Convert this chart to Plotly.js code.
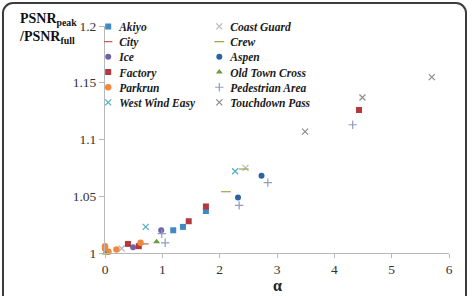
<!DOCTYPE html>
<html>
<head>
<meta charset="utf-8">
<script src="https://cdn.plot.ly/plotly-3.0.1.min.js"></script>
<style>
  html, body { margin: 0; padding: 0; background: #fff; overflow: hidden; }
  #plot { position: absolute; left: 0; top: 0; width: 473px; height: 296px; }
  #frame { position: absolute; left: 2px; top: 2px; width: 461px; height: 320px;
           border: 2px solid #3c3c3c; border-radius: 11px; pointer-events: none; }
</style>
</head>
<body>
<div id="plot"></div>
<div id="frame"></div>
<script>
// ---- data (alpha, PSNR_peak / PSNR_full) ----
const akiyoX = [1.19, 1.36, 1.76];
const akiyoY = [1.020, 1.023, 1.037];
const cityX = [0.69];
const cityY = [1.008];
const iceX = [0.49, 0.98];
const iceY = [1.005, 1.020];
const factoryX = [0.40, 0.59, 1.46, 1.76, 4.43];
const factoryY = [1.008, 1.006, 1.028, 1.041, 1.126];
const parkrunX = [0.0, 0.0, 0.06, 0.20, 0.62];
const parkrunY = [1.006, 1.004, 1.001, 1.003, 1.009];
const westWindX = [0.71, 2.27];
const westWindY = [1.023, 1.072];
const coastGuardX = [0.29, 2.45];
const coastGuardY = [1.004, 1.075];
const crewX = [2.11, 2.42];
const crewY = [1.054, 1.074];
const aspenX = [2.32, 2.73];
const aspenY = [1.049, 1.068];
const oldTownX = [0.0, 0.90];
const oldTownY = [1.000, 1.010];
const pedestrianX = [0.99, 1.05, 2.34, 2.84, 4.32];
const pedestrianY = [1.017, 1.009, 1.042, 1.062, 1.113];
const touchdownX = [3.49, 4.49, 5.70];
const touchdownY = [1.107, 1.137, 1.155];

const xTicks = [0, 1, 2, 3, 4, 5, 6];
const yTicks = [1, 1.05, 1.1, 1.15, 1.2];
const yTickText = ['1', '1.05', '1.1', '1.15', '1.2'];

const SERIF = '"Liberation Serif", "Times New Roman", Times, serif';

function tr(name, x, y, symbol, color, size, legend, thin) {
  const m = { symbol: symbol, color: color, size: size };
  if (thin) m.line = { color: color, width: 1.2 };
  else m.line = { width: 0 };
  return { type: 'scatter', mode: 'markers', name: '<b><i>' + name + '</i></b>', x: x, y: y,
           marker: m, legend: legend, cliponaxis: false, hoverinfo: 'skip' };
}

const traces = [
  tr('Akiyo', akiyoX, akiyoY, 'square', '#3f8ac4', 6, 'legend', false),
  tr('City', cityX, cityY, 'line-ew', '#c0605d', 6, 'legend', true),
  tr('Ice', iceX, iceY, 'circle', '#7060a8', 6, 'legend', false),
  tr('Factory', factoryX, factoryY, 'square', '#b03a3e', 6, 'legend', false),
  tr('Parkrun', parkrunX, parkrunY, 'circle', '#f0883c', 6.5, 'legend', false),
  tr('West Wind Easy', westWindX, westWindY, 'x-thin', '#4bacc6', 6, 'legend', true),
  tr('Coast Guard', coastGuardX, coastGuardY, 'x-thin', '#b8b8b8', 6, 'legend2', true),
  tr('Crew', crewX, crewY, 'line-ew', '#9aa84a', 7, 'legend2', true),
  tr('Aspen', aspenX, aspenY, 'circle', '#2c64a0', 6, 'legend2', false),
  tr('Old Town Cross', oldTownX, oldTownY, 'triangle-up', '#6e9a3c', 6, 'legend2', false),
  tr('Pedestrian Area', pedestrianX, pedestrianY, 'cross-thin', '#8f9dc0', 6, 'legend2', true),
  tr('Touchdown Pass', touchdownX, touchdownY, 'x-thin', '#8c8c8c', 6, 'legend2', true)
];

const legendFont = { family: SERIF, size: 11.5, color: '#1a1a1a' };

const layout = {
  width: 473, height: 296,
  margin: { l: 105, r: 24, t: 24, b: 43, pad: 0 },
  paper_bgcolor: '#ffffff', plot_bgcolor: '#ffffff',
  font: { family: SERIF, color: '#333' },
  showlegend: true,
  legend: { x: -0.075, xanchor: 'left', y: 1.062, yanchor: 'top', orientation: 'v',
            bgcolor: 'rgba(0,0,0,0)', font: legendFont, itemwidth: 30 },
  legend2: { x: 0.248, xanchor: 'left', y: 1.062, yanchor: 'top', orientation: 'v',
             bgcolor: 'rgba(0,0,0,0)', font: legendFont, itemwidth: 30 },
  xaxis: {
    range: [0, 6], tickvals: xTicks, ticktext: xTicks.map(String),
    showgrid: false, zeroline: false, showline: true, linecolor: '#b8b8b8', linewidth: 1,
    ticks: 'outside', ticklen: 4, tickcolor: '#b8b8b8',
    tickfont: { family: SERIF, size: 13.5, color: '#333' },
    fixedrange: true
  },
  yaxis: {
    range: [1, 1.2], tickvals: yTicks, ticktext: yTickText,
    showgrid: false, zeroline: false, showline: true, linecolor: '#b8b8b8', linewidth: 1,
    ticks: 'outside', ticklen: 5, tickcolor: '#b8b8b8',
    tickfont: { family: SERIF, size: 13.5, color: '#333' },
    fixedrange: true
  },
  annotations: [{
    xref: 'paper', yref: 'paper', x: -0.255, y: 1.075, xanchor: 'left', yanchor: 'top',
    align: 'left', showarrow: false,
    text: '<b>PSNR<sub>peak</sub></b><br><b>/PSNR<sub>full</sub></b>',
    font: { family: SERIF, size: 14, color: '#111' }
  }, {
    xref: 'paper', yref: 'paper', x: 0.5, y: -0.1005, xanchor: 'center', yanchor: 'top',
    showarrow: false, text: '<b>α</b>', borderpad: 0,
    font: { family: SERIF, size: 16, color: '#222' }
  }]
};

Plotly.newPlot('plot', traces, layout, { staticPlot: true, displayModeBar: false }).then(function (gd) {
  // tighten legend rows and pull symbols closer to their labels, as in the reference
  const rowStep = 15.2;
  const re = /translate\(\s*([-\d.e]+)[ ,]+([-\d.e]+)\s*\)/;
  document.querySelectorAll('#plot g.legend, #plot g.legend2').forEach(function (lg) {
    const items = lg.querySelectorAll('g.traces');
    if (!items.length) return;
    const first = re.exec(items[0].getAttribute('transform') || '');
    if (!first) return;
    const y0 = parseFloat(first[2]);
    items.forEach(function (g, i) {
      const m = re.exec(g.getAttribute('transform') || '');
      if (m) g.setAttribute('transform', 'translate(' + parseFloat(m[1]) + ',' + (y0 + i * rowStep) + ')');
      g.querySelectorAll('g.legendpoints').forEach(function (p) {
        p.setAttribute('transform', 'translate(9,0)');
      });
    });
  });
});
</script>
</body>
</html>
